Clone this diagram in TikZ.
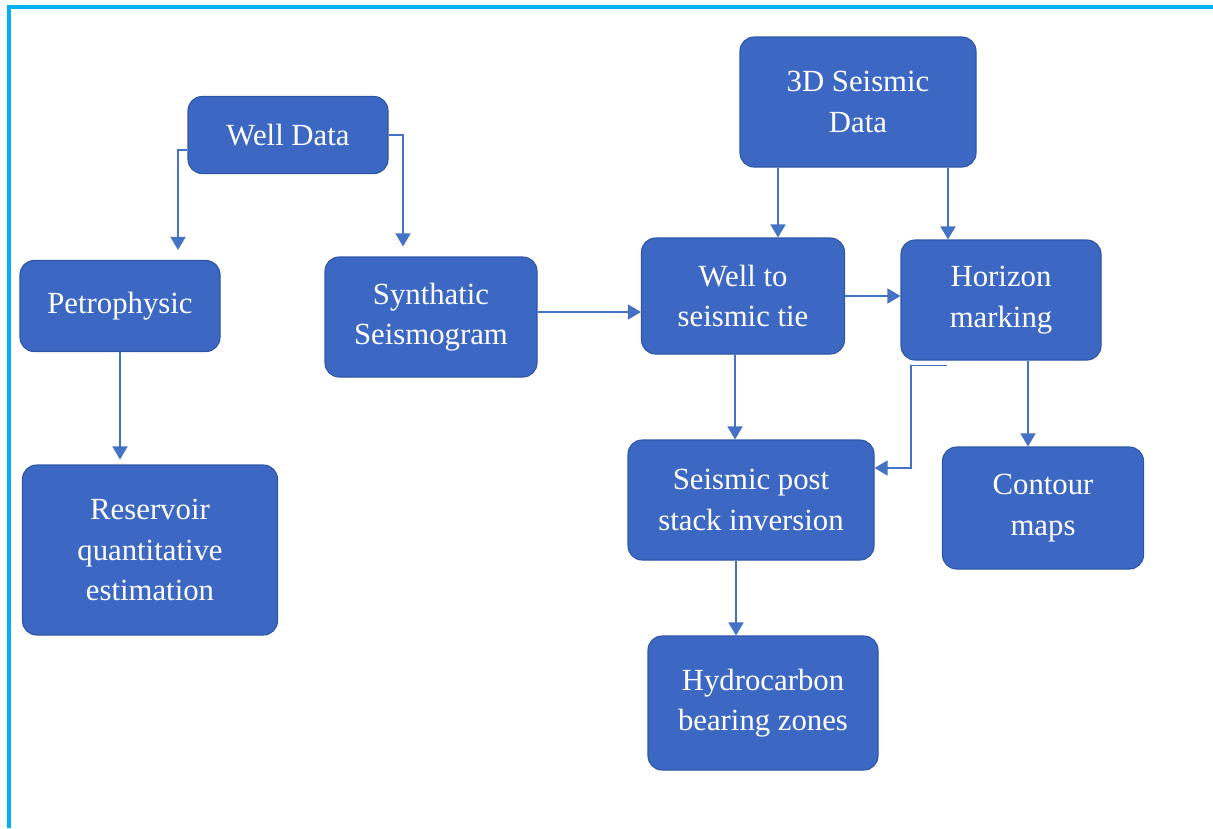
\documentclass[tikz,border=0pt]{standalone}
\usepackage{fontspec}
\setmainfont{Liberation Serif}
\usepackage{tikz}
\usetikzlibrary{arrows.meta,positioning,calc}
\usepackage{xcolor}
\definecolor{cBox}{RGB}{60,104,196}
\definecolor{cEdge}{RGB}{46,86,165}
\definecolor{cLink}{RGB}{68,114,196}
\definecolor{cFrame}{RGB}{0,176,240}

\begin{document}
\begin{tikzpicture}[
  font=\fontsize{17.5}{23}\selectfont,
  blk/.style={rectangle, rounded corners=8pt, draw=cEdge, line width=0.6pt,
    fill=cBox, text=white, align=center, inner sep=2pt},
  link/.style={-{Triangle[length=2.6mm, width=3mm]}, line width=0.8pt, draw=cLink},
]
\useasboundingbox (0,0) rectangle (24.26,-16.56);
\draw[cFrame, line width=2.2pt] (0.18,-16.56) -- (0.18,-0.14) -- (24.26,-0.14);

\node[blk, minimum width=4.0cm, minimum height=1.54cm] (wd) at (5.76,-2.70) {Well Data};
\node[blk, minimum width=4.72cm, minimum height=2.6cm] (sd) at (17.16,-2.04) {3D Seismic\\Data};
\node[blk, minimum width=4.0cm, minimum height=1.82cm] (pet) at (2.40,-6.12) {Petrophysic};
\node[blk, minimum width=4.24cm, minimum height=2.4cm] (syn) at (8.62,-6.34) {Synthatic\\Seismogram};
\node[blk, minimum width=4.06cm, minimum height=2.32cm] (wt) at (14.86,-5.92) {Well to\\seismic tie};
\node[blk, minimum width=4.0cm, minimum height=2.4cm] (hz) at (20.02,-6.00) {Horizon\\marking};
\node[blk, minimum width=5.1cm, minimum height=3.4cm] (res) at (3.00,-11.00) {Reservoir\\quantitative\\estimation};
\node[blk, minimum width=4.92cm, minimum height=2.4cm] (sp) at (15.02,-10.00) {Seismic post\\stack inversion};
\node[blk, minimum width=4.02cm, minimum height=2.44cm] (ct) at (20.86,-10.16) {Contour\\maps};
\node[blk, minimum width=4.6cm, minimum height=2.68cm] (hc) at (15.26,-14.06) {Hydrocarbon\\bearing zones};

\draw[link, shorten >=2mm] ([yshift=-3mm]wd.west) -| ([xshift=11.6mm]pet.north);
\draw[link, shorten >=2mm] (wd.east) -| ([xshift=-5.6mm]syn.north);
\draw[link, shorten >=1mm] (pet.south) -- (pet.south |- res.north);
\draw[link] ([yshift=1mm]syn.east) -- ([yshift=1mm]syn.east -| wt.west);
\draw[link] ([xshift=-16mm]sd.south) -- ([xshift=-16mm]sd.south |- wt.north);
\draw[link] ([xshift=18mm]sd.south) -- ([xshift=18mm]sd.south |- hz.north);
\draw[link] (wt.east) -- (wt.east -| hz.west);
\draw[link] ([xshift=-1.6mm]wt.south) -- ([xshift=-1.6mm]wt.south |- sp.north);
\draw[link] ([xshift=-10.8mm,yshift=-1mm]hz.south) -- ++(-0.72,0) |- ([yshift=6.4mm]sp.east);
\draw[link] ([xshift=5.4mm]hz.south) -- ([xshift=5.4mm]hz.south |- ct.north);
\draw[link] ([xshift=-3mm]sp.south) -- ([xshift=-3mm]sp.south |- hc.north);
\end{tikzpicture}
\end{document}
